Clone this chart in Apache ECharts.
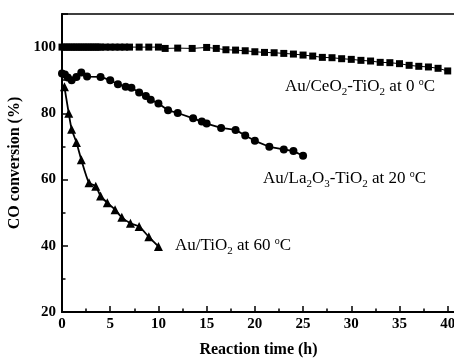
<!DOCTYPE html>
<html>
<head>
<meta charset="utf-8">
<script src="https://cdn.jsdelivr.net/npm/echarts@6/dist/echarts.min.js"></script>
<style>
  html, body { margin: 0; padding: 0; background: #fff; }
  #chart { width: 454px; height: 364px; }
</style>
</head>
<body>
<div id="chart"></div>
<script>
  // Au/CeO2-TiO2 at 0 oC
  var ceTime = [0, 0.25, 0.5, 0.75, 1, 1.25, 1.5, 1.75, 2, 2.25, 2.5, 2.75, 3, 3.25, 3.5, 3.75, 4, 4.5, 5, 5.5, 6, 6.5, 7, 8, 9, 10,
    10.7, 12, 13.5, 15, 16, 17, 18, 19, 20, 21, 22, 23, 24, 25, 26, 27, 28, 29, 30, 31, 32, 33, 34, 35, 36, 37, 38, 39, 40]
  var ceConv = [100, 100, 100, 100, 100, 100, 100, 100, 100, 100, 100, 100, 100, 100, 100, 100, 100, 100, 100, 100, 100, 100, 100, 100, 100, 100,
    99.6, 99.7, 99.6, 99.9, 99.6, 99.2, 99.1, 98.9, 98.6, 98.4, 98.3, 98.1, 97.9, 97.6, 97.3, 96.9, 96.8, 96.5, 96.3, 96.0, 95.8, 95.4, 95.3, 95.0, 94.5, 94.2, 94.0, 93.6, 92.8]

  // Au/La2O3-TiO2 at 20 oC
  var laTime = [0, 0.3, 0.6, 1, 1.5, 2, 2.6, 4, 5, 5.8, 6.6, 7.2, 8, 8.7, 9.2, 10, 11, 12, 13.6, 14.5, 15, 16.5, 18, 19, 20, 21.5, 23, 24, 25]
  var laConv = [92, 91.7, 90.8, 90, 91, 92.3, 91.1, 91, 90, 88.8, 88, 87.7, 86.3, 85.2, 84.1, 83, 80.9, 80.1, 78.5, 77.5, 76.9, 75.6, 75, 73.3, 71.7, 69.9, 69.1, 68.6, 67.2]

  // Au/TiO2 at 60 oC
  var tiTime = [0.25, 0.7, 1, 1.5, 2, 2.8, 3.5, 4, 4.7, 5.5, 6.2, 7.1, 8, 9, 10]
  var tiConv = [88, 80, 75.2, 71.2, 66, 59, 58, 55, 53, 50.9, 48.6, 46.8, 45.8, 42.7, 39.8]

  var yTicks = [20, 40, 60, 80, 100]

  function pairs (xs, ys) {
    return xs.map(function (x, i) { return [x, ys[i]] })
  }

  var serif = 'Liberation Serif'
  var richStyles = {
    n: { fontFamily: serif, fontSize: 17, color: '#000' },
    s: { fontFamily: serif, fontSize: 11, color: '#000', padding: [10, 0, 0, 0] },
    p: { fontFamily: serif, fontSize: 10, color: '#000', padding: [0, 0, 10, 0] }
  }

  var chart = echarts.init(document.getElementById('chart'))
  chart.setOption({
    animation: false,
    backgroundColor: '#fff',
    grid: {
      left: 62,
      top: 14,
      width: 405,
      bottom: 52,
      outerBoundsMode: 'none',
      show: true,
      borderColor: '#000',
      borderWidth: 1.5
    },
    xAxis: {
      type: 'value',
      min: 0,
      max: 42,
      interval: 5,
      name: 'Reaction time (h)',
      nameLocation: 'middle',
      nameGap: 30,
      nameTextStyle: { fontFamily: serif, fontSize: 16, fontWeight: 'bold', color: '#000', padding: [0, 12, 0, 0] },
      axisLine: { onZero: false, lineStyle: { color: '#000', width: 2 } },
      axisTick: { inside: true, length: 6, lineStyle: { color: '#000', width: 1.5 } },
      minorTick: { show: true, splitNumber: 2, length: 3.5, lineStyle: { color: '#000', width: 1.5 } },
      axisLabel: { fontFamily: serif, fontSize: 15, fontWeight: 'bold', color: '#000', margin: 5,
        formatter: function (v) { return v % 5 === 0 ? String(v) : '' } },
      splitLine: { show: false }
    },
    yAxis: [
      {
        type: 'value',
        min: 20,
        max: 110,
        interval: 20,
        name: 'CO conversion (%)',
        nameLocation: 'middle',
        nameGap: 38,
        nameRotate: 90,
        nameTextStyle: { fontFamily: serif, fontSize: 16, fontWeight: 'bold', color: '#000' },
        axisLine: { lineStyle: { color: '#000', width: 2 } },
        axisTick: { inside: true, length: 6, lineStyle: { color: '#000', width: 1.5 } },
        axisLabel: { fontFamily: serif, fontSize: 15, fontWeight: 'bold', color: '#000', margin: 6,
          formatter: function (v) { return yTicks.indexOf(v) >= 0 ? String(v) : '' } },
        splitLine: { show: false }
      },
      {
        type: 'value',
        position: 'left',
        min: 20,
        max: 110,
        interval: 10,
        axisLine: { show: false },
        axisTick: { inside: true, length: 3.5, lineStyle: { color: '#000', width: 1.5 } },
        axisLabel: { show: false },
        splitLine: { show: false }
      }
    ],
    series: [
      {
        name: 'Au/CeO2-TiO2',
        type: 'line',
        data: pairs(ceTime, ceConv),
        symbol: 'rect',
        symbolSize: 7,
        lineStyle: { color: '#000', width: 1 },
        itemStyle: { color: '#000' }
      },
      {
        name: 'Au/La2O3-TiO2',
        type: 'line',
        data: pairs(laTime, laConv),
        symbol: 'circle',
        symbolSize: 8,
        lineStyle: { color: '#000', width: 1.8 },
        itemStyle: { color: '#000' }
      },
      {
        name: 'Au/TiO2',
        type: 'line',
        data: pairs(tiTime, tiConv),
        symbol: 'triangle',
        symbolSize: 9,
        smooth: 0.2,
        lineStyle: { color: '#000', width: 1.8 },
        itemStyle: { color: '#000' }
      }
    ],
    graphic: [
      {
        type: 'text', left: 285, top: 77,
        style: { text: '{n|Au/CeO}{s|2}{n|-TiO}{s|2}{n| at 0 }{p|o}{n|C}', rich: richStyles }
      },
      {
        type: 'text', left: 263, top: 169,
        style: { text: '{n|Au/La}{s|2}{n|O}{s|3}{n|-TiO}{s|2}{n| at 20 }{p|o}{n|C}', rich: richStyles }
      },
      {
        type: 'text', left: 175, top: 236,
        style: { text: '{n|Au/TiO}{s|2}{n| at 60 }{p|o}{n|C}', rich: richStyles }
      }
    ]
  })
</script>
</body>
</html>
